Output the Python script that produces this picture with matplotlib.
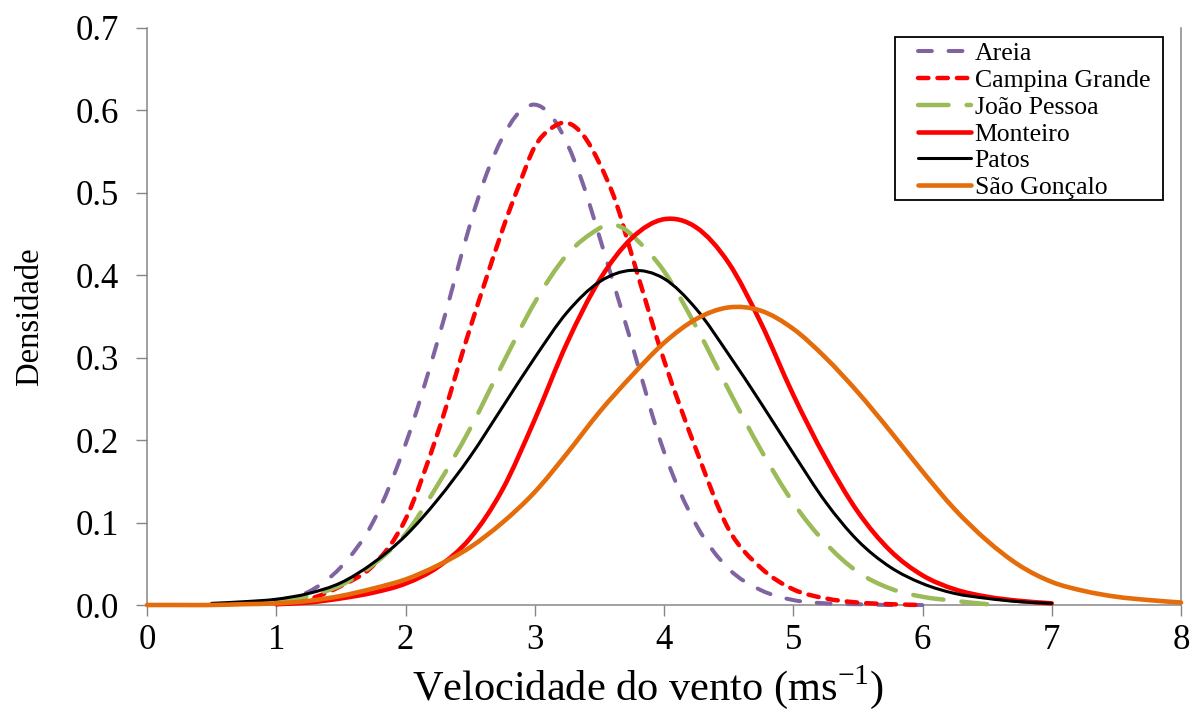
import matplotlib
matplotlib.use('Agg')
import matplotlib.pyplot as plt
from matplotlib.path import Path
from matplotlib.patches import PathPatch, Rectangle
from matplotlib.lines import Line2D

plt.rcParams['font.family'] = ['Liberation Serif', 'DejaVu Serif']
plt.rcParams['mathtext.fontset'] = 'custom'
plt.rcParams['mathtext.rm'] = 'Liberation Serif'
plt.rcParams['lines.scale_dashes'] = False

# ---- data ----
labels = ['Areia', 'Campina Grande', 'João Pessoa', 'Monteiro', 'Patos', 'São Gonçalo']

x_areia = [1.0, 1.25, 1.5, 1.75, 2.0, 2.25, 2.5, 2.625, 2.75, 2.875, 3.0, 3.125, 3.25,
           3.375, 3.5, 3.75, 4.0, 4.25, 4.5, 4.75, 5.0, 5.25, 5.5, 5.75, 6.0]
y_areia = [0.005, 0.016, 0.046, 0.101, 0.195, 0.321, 0.462, 0.522, 0.567, 0.597, 0.607,
           0.594, 0.560, 0.510, 0.447, 0.317, 0.186, 0.097, 0.044, 0.018, 0.006, 0.002,
           0.001, 0.0, 0.0]

x_cg = [1.0, 1.25, 1.5, 1.75, 2.0, 2.25, 2.5, 2.75, 2.875, 3.0, 3.125, 3.25, 3.375, 3.5,
        3.625, 3.75, 4.0, 4.25, 4.5, 4.75, 5.0, 5.25, 5.5, 5.75, 6.0]
y_cg = [0.001, 0.007, 0.023, 0.048, 0.104, 0.209, 0.336, 0.455, 0.508, 0.556, 0.578, 0.585,
        0.570, 0.536, 0.490, 0.425, 0.297, 0.188, 0.092, 0.045, 0.019, 0.008, 0.003, 0.001, 0.0]

x_jp = [1.0, 1.25, 1.5, 1.75, 2.0, 2.25, 2.5, 2.75, 3.0, 3.25, 3.5, 3.625, 3.75, 4.0, 4.25,
        4.5, 4.75, 5.0, 5.25, 5.5, 5.75, 6.0, 6.25, 6.5]
y_jp = [0.004, 0.011, 0.024, 0.049, 0.086, 0.146, 0.214, 0.292, 0.367, 0.425, 0.457, 0.461,
        0.449, 0.405, 0.337, 0.261, 0.188, 0.124, 0.075, 0.040, 0.020, 0.010, 0.005, 0.001]

x_mo = [1.0, 1.25, 1.5, 1.75, 2.0, 2.25, 2.5, 2.75, 3.0, 3.25, 3.5, 3.75, 4.0, 4.25,
        4.5, 4.75, 5.0, 5.25, 5.5, 5.75, 6.0, 6.25, 6.5, 6.75, 7.0]
y_mo = [0.001, 0.003, 0.008, 0.015, 0.026, 0.046, 0.081, 0.140, 0.225, 0.318, 0.394, 0.445,
        0.468, 0.458, 0.415, 0.342, 0.255, 0.178, 0.113, 0.066, 0.036, 0.019, 0.010,
        0.005, 0.002]

x_pa = [0.5, 0.75, 1.0, 1.25, 1.5, 1.75, 2.0, 2.25, 2.5, 2.75, 3.0, 3.25, 3.5, 3.75, 4.0,
        4.25, 4.5, 4.75, 5.0, 5.25, 5.5, 5.75, 6.0, 6.25, 6.5, 6.75, 7.0]
y_pa = [0.002, 0.004, 0.007, 0.014, 0.027, 0.051, 0.084, 0.128, 0.180, 0.240, 0.300, 0.355,
        0.392, 0.406, 0.396, 0.359, 0.304, 0.245, 0.184, 0.125, 0.078, 0.046, 0.026, 0.014,
        0.008, 0.004, 0.002]

x_sg = [0.0, 0.25, 0.5, 0.75, 1.0, 1.25, 1.5, 1.75, 2.0, 2.25, 2.5, 2.75, 3.0, 3.25, 3.5,
        3.75, 4.0, 4.25, 4.5, 4.75, 5.0, 5.25, 5.5, 5.75, 6.0, 6.25, 6.5, 6.75, 7.0,
        7.25, 7.5, 7.75, 8.0]
y_sg = [0.0, 0.0, 0.0, 0.001, 0.002, 0.005, 0.011, 0.020, 0.031, 0.048, 0.070, 0.100, 0.137,
        0.184, 0.234, 0.278, 0.318, 0.347, 0.361, 0.357, 0.335, 0.300, 0.258, 0.211,
        0.162, 0.116, 0.078, 0.048, 0.028, 0.017, 0.010, 0.006, 0.003]

x_ticks = [0, 1, 2, 3, 4, 5, 6, 7, 8]
y_ticks = [0.0, 0.1, 0.2, 0.3, 0.4, 0.5, 0.6, 0.7]


def smooth_path(x, y):
    """Smoothed line through the read points (like a spreadsheet 'smoothed line')."""
    n = len(x)
    m = []
    for i in range(n):
        a = max(i - 1, 0)
        b = min(i + 1, n - 1)
        m.append((y[b] - y[a]) / (x[b] - x[a]))
    verts = [(x[0], y[0])]
    codes = [Path.MOVETO]
    for i in range(n - 1):
        h = x[i + 1] - x[i]
        verts += [(x[i] + h / 3, y[i] + m[i] * h / 3),
                  (x[i + 1] - h / 3, y[i + 1] - m[i + 1] * h / 3),
                  (x[i + 1], y[i + 1])]
        codes += [Path.CURVE4] * 3
    return Path(verts, codes)


# ---- figure ----
W, H = 1190, 711
fig = plt.figure(figsize=(W / 100, H / 100), dpi=100)
ax = fig.add_axes([147 / W, 1 - 605 / H, (1181 - 147) / W, (605 - 28) / H])

styles = [
    dict(color='#8064A2', lw=2.9, dashes=(10, 12)),
    dict(color='#FF0000', lw=3.2, dashes=(7.5, 6.5)),
    dict(color='#9BBB59', lw=3.2, dashes=(22, 13)),
    dict(color='#FF0000', lw=3.3, dashes=None),
    dict(color='#000000', lw=2.2, dashes=None),
    dict(color='#E46C0A', lw=3.3, dashes=None),
]
xs = [x_areia, x_cg, x_jp, x_mo, x_pa, x_sg]
ys = [y_areia, y_cg, y_jp, y_mo, y_pa, y_sg]

handles = []
for x, y, lab, st in zip(xs, ys, labels, styles):
    ls = (0, st['dashes']) if st['dashes'] else '-'
    patch = PathPatch(smooth_path(x, y), fill=False, edgecolor=st['color'],
                      linewidth=st['lw'], linestyle=ls, capstyle='round',
                      joinstyle='round', clip_on=False, zorder=3)
    ax.add_patch(patch)
    if st['dashes']:
        h = Line2D([], [], color=st['color'], lw=st['lw'], dashes=st['dashes'],
                   dash_capstyle='round')
    else:
        h = Line2D([], [], color=st['color'], lw=st['lw'], solid_capstyle='round')
    handles.append(h)

ax.set_xlim(0, 8)
ax.set_ylim(0, 0.7)
ax.set_xticks(x_ticks)
ax.set_yticks(y_ticks)
ax.set_yticklabels([f'{v:.1f}' for v in y_ticks])

gray = '#868686'
for side in ['left', 'bottom', 'right']:
    ax.spines[side].set_color(gray)
    ax.spines[side].set_linewidth(1.1)
ax.spines['top'].set_visible(False)

ax.tick_params(axis='both', direction='out', length=8, width=1.0, color=gray,
               labelsize=25, labelcolor='black')
ax.tick_params(axis='y', pad=12)
ax.tick_params(axis='x', pad=6)

ax.set_xlabel('Velocidade do vento (ms$^{\\mathregular{-1}}$)', fontsize=30.5, labelpad=4)
ax.xaxis.label.set_x((648 - 147) / (1181 - 147))
ax.set_ylabel('Densidade', fontsize=23.5, labelpad=22)

# legend box
ax.add_patch(Rectangle((895 / W, 1 - 200 / H), (1163 - 895) / W, (200 - 37) / H,
                       transform=fig.transFigure, facecolor='white', edgecolor='black',
                       lw=1.3, zorder=4, clip_on=False))
leg = ax.legend(handles, labels, loc='upper left', bbox_to_anchor=(918 / W, 1 - 42 / H),
                bbox_transform=fig.transFigure, frameon=False, fontsize=18.5,
                handlelength=2.05, handletextpad=0.15, labelspacing=0.15, borderpad=0,
                borderaxespad=0)
leg.set_zorder(5)

fig.savefig('out.png', dpi=100)
